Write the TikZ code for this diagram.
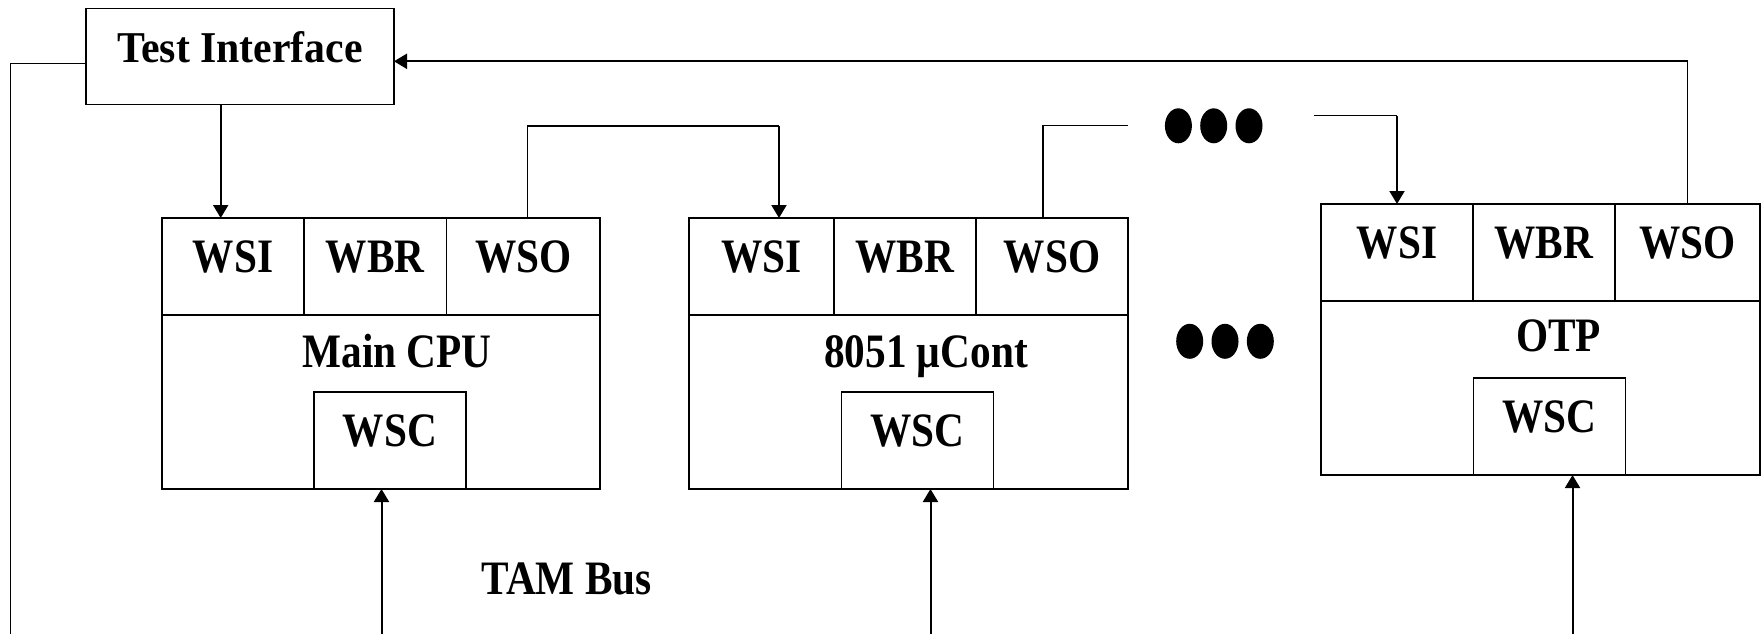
\documentclass[tikz,border=0pt]{standalone}
\usepackage{fontspec}
\setmainfont{Liberation Serif}
\newfontfamily\cellfont{Liberation Serif}[FakeStretch=0.86]
\newfontfamily\tifont{Liberation Serif}[FakeStretch=0.95]
\usetikzlibrary{arrows.meta,positioning,calc}
\tikzset{
  box/.style  ={draw, line width=1.5pt, inner sep=0pt, outer sep=0pt},
  cell/.style ={box, minimum height=97, font=\cellfont\bfseries\fontsize{48}{50}\selectfont, text height=31.5pt, text depth=19pt},
  tibox/.style={box, font=\tifont\bfseries\fontsize{44}{46}\selectfont, text height=29pt, text depth=17pt},
  lbl/.style  ={inner sep=0pt, font=\cellfont\bfseries\fontsize{48}{50}\selectfont, text height=31.5pt, text depth=0pt},
  dotrow/.style={inner sep=0pt, outer sep=0pt, minimum width=100, minimum height=36},
  wire/.style ={line width=1.2pt},
  arr/.style  ={-{Triangle[length=13pt, width=15pt]}, line width=2pt},
}

\begin{document}
\begin{tikzpicture}[x=1pt, y=-1pt]
  \useasboundingbox (0,0) rectangle (1764,634);

  % test interface
  \node[tibox, minimum width=308, minimum height=96] (ti) at (240,56.3) {Test Interface};

  % main CPU wrapper
  \node[cell, minimum width=142, anchor=north west] (mwsi) at (162,218) {WSI};
  \node[cell, minimum width=142.6, right=0pt of mwsi] (mwbr) {WBR};
  \node[cell, minimum width=153.4, right=0pt of mwbr] (mwso) {WSO};
  \node[box, minimum width=438, minimum height=174, anchor=north west] (mbody) at (mwsi.south west) {};
  \node[lbl] (mname) at ($(mbody.north)+(16,37)$) {Main CPU};
  \node[cell, minimum width=152, anchor=south] (mwsc) at ([xshift=9pt]mbody.south) {WSC};

  % 8051 wrapper
  \node[cell, minimum width=145, anchor=north west] (cwsi) at (689,218) {WSI};
  \node[cell, minimum width=142, right=0pt of cwsi] (cwbr) {WBR};
  \node[cell, minimum width=152, right=0pt of cwbr] (cwso) {WSO};
  \node[box, minimum width=439, minimum height=174, anchor=north west] (cbody) at (cwsi.south west) {};
  \node[lbl] (cname) at ($(cbody.north)+(17.5,37)$) {8051 µCont};
  \node[cell, minimum width=152, anchor=south] (cwsc) at ([xshift=9pt]cbody.south) {WSC};

  % OTP wrapper
  \node[cell, minimum width=152, anchor=north west] (owsi) at (1321,204) {WSI};
  \node[cell, minimum width=142, right=0pt of owsi] (owbr) {WBR};
  \node[cell, minimum width=145, right=0pt of owbr] (owso) {WSO};
  \node[box, minimum width=439, minimum height=174, anchor=north west] (obody) at (owsi.south west) {};
  \node[lbl] (oname) at ($(obody.north)+(18,35)$) {OTP};
  \node[cell, minimum width=152, anchor=south] (owsc) at ([xshift=9pt]obody.south) {WSC};

  % more cores in between
  \node[dotrow] (dots1) at (1213.7,125.8) {};
  \node[dotrow] (dots2) at (1225,341.3) {};
  \foreach \d in {dots1,dots2}
    \foreach \k in {-1,0,1}
      \fill ($(\d)+(\k*35.3,0)$) ellipse [x radius=13.5, y radius=17.5];

  \node[lbl] (tam) at (566.7,578.7) {TAM Bus};

  % serial chain
  \coordinate (tiout) at ($(ti.south)+(-19.3,0)$);
  \draw[arr] (tiout) -- (tiout |- mwsi.north);

  \coordinate (c1) at ($(cwsi.north)+(17.5,-92)$);
  \draw[wire] ([xshift=4pt]mwso.north) |- (c1);
  \draw[arr] (c1) -- (c1 |- cwsi.north);

  \draw[wire] ([xshift=-9pt]cwso.north) |- (cwso.east |- dots1);

  \coordinate (d1) at ($(dots1.east)+(50,-10)$);
  \draw[wire] (d1) -- (d1 -| owsi.north);
  \draw[arr] (d1 -| owsi.north) -- (owsi.north);

  \coordinate (tiin) at ($(ti.east)+(0,5)$);
  \draw[wire] (owso.north) -- (owso.north |- tiin);
  \draw[arr] (owso.north |- tiin) -- (tiin);

  % TAM bus
  \coordinate (tiL) at ($(ti.west)+(0,7)$);
  \coordinate (busL) at (10.5,634);
  \draw[wire] (tiL) -| (busL);

  \coordinate (busM) at ($(mwsc.south)+(-8.5,145)$);
  \coordinate (busC) at ($(cwsc.south)+(13,145)$);
  \coordinate (busO) at ($(owsc.south)+(23,159)$);
  \draw[arr] (busM) -- (busM |- mwsc.south);
  \draw[arr] (busC) -- (busC |- cwsc.south);
  \draw[arr] (busO) -- (busO |- owsc.south);
\end{tikzpicture}
\end{document}
